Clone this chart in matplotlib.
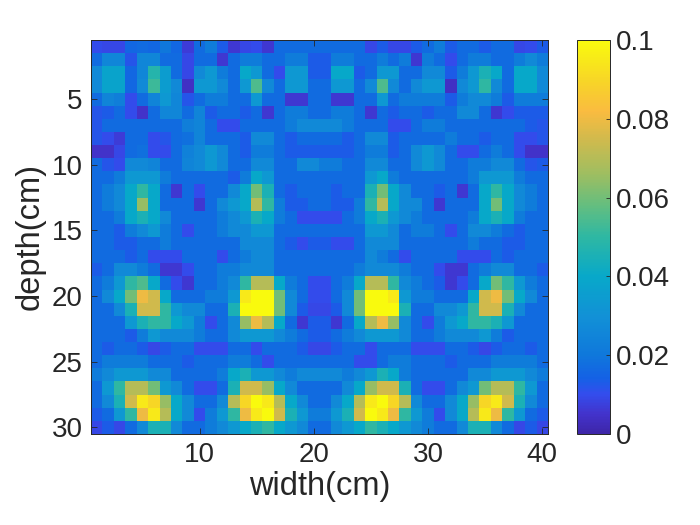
import numpy as np
import matplotlib
matplotlib.use("Agg")
import matplotlib.pyplot as plt
from matplotlib.colors import LinearSegmentedColormap

# values in units of 0.01 (rows = depth 1..30, columns = width 1..40)
values_centi = [
 [1.0,0.9,0.9,1.6,1.7,1.6,2.0,1.6,0.7,1.7, 2.2,1.3,0.6,0.9,1.0,0.6,1.7,1.7,1.7,1.7, 1.7,1.7,1.7,1.7,0.9,1.3,0.9,0.9,1.3,1.7, 2.2,1.3,1.7,1.7,1.3,1.7,1.7,0.9,1.0,1.3],
 [1.7,2.6,2.6,1.2,2.6,2.6,1.7,1.7,0.9,1.7, 1.7,0.6,1.7,2.2,2.2,1.7,1.7,2.2,2.2,1.3, 1.3,2.2,2.2,1.7,1.7,2.2,1.7,2.2,0.6,2.2, 1.7,1.0,1.7,2.2,2.2,1.7,1.7,2.2,2.7,2.2],
 [2.7,3.8,3.8,1.6,2.6,4.8,3.5,1.7,0.9,2.7, 3.3,2.2,1.7,4.0,3.3,1.7,1.0,3.3,3.3,1.3, 1.3,4.0,4.0,1.3,1.7,3.3,3.3,1.7,1.7,2.7, 2.7,1.3,2.2,3.3,4.5,4.0,1.7,4.0,4.0,2.7],
 [2.7,3.8,3.8,1.6,2.7,5.2,3.5,2.7,0.4,3.3, 3.3,2.7,1.7,3.3,5.5,2.7,1.7,3.3,3.3,1.7, 1.7,3.3,3.3,1.7,2.7,5.5,2.7,1.7,2.7,3.3, 3.3,0.4,2.7,3.3,5.0,2.7,1.7,4.0,4.0,2.7],
 [1.7,2.5,2.3,1.0,1.7,2.5,3.3,2.6,1.2,1.7, 2.2,2.2,1.7,1.7,3.3,1.7,1.7,0.6,0.6,1.7, 1.7,0.6,0.6,1.7,1.7,3.3,1.7,2.2,2.2,2.2, 2.2,1.3,2.2,2.7,2.7,2.2,1.3,2.2,2.2,2.2],
 [1.2,1.3,1.7,1.0,0.5,1.7,2.6,2.6,1.7,2.5, 1.3,1.7,1.7,1.3,1.7,0.6,1.7,2.2,2.2,1.7, 1.7,2.2,2.2,1.7,0.6,1.7,1.3,1.7,1.7,1.3, 1.7,1.7,2.7,2.7,1.7,0.6,1.0,1.3,1.3,1.3],
 [1.2,1.7,1.7,1.7,1.7,1.7,1.7,1.7,2.3,2.5, 1.7,1.0,1.0,1.7,1.7,1.7,1.7,2.2,2.7,2.7, 2.7,2.7,2.2,1.7,1.7,1.7,1.0,1.0,1.7,2.2, 2.2,1.7,1.7,1.7,1.7,1.7,1.7,1.7,1.3,1.2],
 [1.2,1.0,0.7,1.7,1.7,1.0,1.2,1.7,1.8,2.5, 1.7,1.7,1.7,1.3,2.7,2.7,1.7,1.3,1.7,1.7, 1.7,1.7,1.3,1.7,2.7,2.7,1.3,1.7,1.7,1.7, 1.7,2.2,1.7,1.7,1.3,1.7,1.7,1.0,1.0,1.2],
 [0.5,0.5,0.9,1.7,1.8,1.0,1.0,1.7,2.4,2.7, 3.3,2.7,1.7,1.3,2.2,2.2,1.7,1.3,1.3,1.3, 1.3,1.3,1.3,1.7,2.2,2.2,1.3,1.7,2.7,3.3, 2.7,1.7,1.0,1.0,1.7,2.2,1.7,1.0,0.5,0.5],
 [1.7,1.2,1.0,2.7,2.7,2.5,1.7,1.7,2.5,2.7, 3.3,2.7,1.7,1.7,2.7,2.7,1.7,1.7,2.7,2.7, 2.2,2.2,1.7,1.7,2.7,2.7,1.7,1.7,2.7,3.3, 2.7,1.7,1.7,2.2,2.2,2.7,2.7,1.7,1.2,1.3],
 [1.7,1.7,2.2,3.3,3.3,3.3,2.2,1.7,1.7,1.7, 1.7,1.7,1.3,2.2,4.0,3.3,1.7,1.7,1.7,1.7, 1.7,1.7,1.7,1.7,3.3,4.0,2.2,1.7,1.7,1.7, 1.7,1.7,1.7,2.2,3.3,3.3,3.3,2.2,1.7,1.7],
 [1.7,2.2,2.7,4.0,5.0,4.0,1.7,0.6,1.7,1.0, 1.7,1.7,2.7,4.0,6.0,4.5,1.7,1.3,1.7,1.7, 1.7,1.3,1.7,1.7,4.5,6.0,4.0,2.7,1.7,1.7, 1.3,1.7,0.6,1.7,4.0,5.0,4.0,2.7,2.2,1.7],
 [1.7,2.2,2.7,4.0,6.5,4.0,1.7,1.7,1.7,0.6, 1.7,2.7,3.3,4.0,7.0,5.0,2.2,1.3,1.3,1.7, 1.7,1.3,1.3,2.2,5.0,7.0,4.0,2.7,2.7,1.7, 0.6,1.7,1.7,1.7,4.0,6.0,4.0,2.7,2.2,1.7],
 [1.7,1.7,2.2,4.0,4.5,4.0,2.7,1.7,1.7,1.7, 1.7,2.2,2.7,3.3,4.5,4.0,2.2,1.7,1.0,1.0, 1.0,1.0,1.7,2.2,4.0,4.5,3.3,2.7,2.2,1.7, 1.7,1.7,1.7,2.2,4.0,4.5,4.0,2.2,1.7,1.7],
 [1.7,1.7,1.3,2.2,2.7,3.3,2.2,1.7,1.0,1.7, 1.7,2.2,2.7,2.7,3.3,3.3,1.7,1.7,1.7,1.7, 1.7,1.7,1.7,1.7,3.3,3.3,2.7,1.7,2.2,2.2, 1.7,1.0,1.7,2.7,2.7,2.2,1.7,1.3,1.7,1.7],
 [1.7,1.7,1.3,1.3,1.7,1.7,2.2,1.7,1.7,1.7, 1.7,1.7,1.7,2.7,2.7,2.7,1.7,1.3,1.0,1.3, 1.3,1.0,1.0,1.7,2.7,2.7,2.7,1.7,1.7,1.7, 1.7,1.7,1.7,2.2,1.7,1.7,1.3,1.3,1.7,1.7],
 [1.7,1.7,1.7,1.3,1.7,1.0,1.0,1.0,1.7,1.7, 1.7,1.0,1.7,2.2,2.7,2.7,1.7,1.7,1.7,1.7, 1.7,1.7,1.7,1.7,2.7,2.2,1.7,1.0,1.7,1.7, 1.7,1.7,1.0,1.0,1.0,1.7,1.3,1.7,1.7,1.7],
 [1.3,1.7,2.7,2.7,2.2,1.7,0.6,0.6,1.0,1.7, 1.7,2.2,2.2,2.7,2.7,2.7,1.7,1.7,1.7,1.7, 1.7,1.7,1.7,2.2,2.7,2.7,2.7,2.2,1.7,1.7, 1.0,0.6,0.6,1.7,2.2,2.7,2.7,1.7,1.7,1.3],
 [1.7,2.2,3.3,5.0,5.5,4.0,1.7,1.0,0.6,1.7, 1.7,2.2,2.7,5.0,7.0,7.0,4.0,2.2,1.7,1.0, 1.0,1.7,2.2,4.0,7.0,7.0,5.0,2.7,2.2,1.7, 1.3,0.6,1.0,1.7,4.0,6.0,5.0,3.3,2.2,1.7],
 [1.7,2.7,4.0,6.0,8.0,7.5,4.0,1.7,1.7,1.7, 2.2,2.2,3.3,9.5,10,10,6.0,2.7,1.7,1.0, 1.0,1.7,2.7,6.0,10,10,9.5,3.3,2.2,2.2, 1.7,1.7,1.7,4.0,7.5,8.0,6.0,4.0,2.7,1.7],
 [1.7,1.7,2.7,4.5,7.5,7.5,5.0,3.3,2.7,2.7, 1.7,1.7,4.5,10,10,10,6.0,2.7,1.3,0.9, 0.9,1.3,2.7,6.0,10,10,10,4.5,1.7,1.7, 2.7,2.7,3.3,5.0,7.5,7.5,4.5,2.7,1.7,1.7],
 [1.7,1.7,1.7,3.3,4.5,5.0,5.0,4.0,3.3,2.2, 1.0,1.7,2.7,6.5,8.0,7.0,4.0,1.7,0.6,1.3, 1.3,0.6,1.7,4.0,7.0,8.0,6.5,2.7,1.7,1.0, 2.2,3.3,4.0,5.0,5.0,4.5,3.3,1.7,1.7,1.7],
 [1.7,1.7,1.7,1.3,2.2,3.3,2.7,2.7,2.7,2.2, 1.7,1.7,2.7,3.3,3.3,3.3,2.7,2.2,1.7,1.3, 1.3,1.7,2.2,2.7,3.3,3.3,3.3,2.7,1.7,1.7, 2.2,2.7,2.7,2.7,3.3,2.2,1.3,1.7,1.7,1.7],
 [1.7,1.3,1.7,1.7,1.3,0.9,1.3,1.7,1.7,1.0, 1.0,1.0,1.7,1.7,1.0,1.7,1.7,1.7,1.3,0.9, 0.9,1.3,1.7,1.7,1.0,1.7,1.7,1.7,1.0,1.0, 1.0,1.7,1.7,1.3,0.9,1.3,1.7,1.7,1.3,1.7],
 [1.7,2.2,2.2,2.2,2.2,1.7,1.7,1.7,1.3,1.7, 1.7,1.7,2.2,2.2,1.7,1.0,1.7,1.7,1.7,1.7, 1.7,1.7,1.7,1.0,1.0,1.7,2.2,2.2,1.7,1.7, 1.7,1.3,1.7,1.7,1.7,2.2,2.2,2.2,2.2,1.7],
 [2.2,2.7,3.3,3.3,3.3,2.7,2.7,1.7,1.7,1.7, 1.7,2.2,4.0,4.5,3.3,3.3,2.7,2.2,2.7,2.7, 2.7,2.7,2.2,2.7,3.3,4.5,4.0,2.2,1.7,1.7, 1.7,1.7,1.7,2.7,2.7,3.3,3.3,3.3,2.7,2.2],
 [1.7,3.3,5.0,7.0,7.0,6.0,3.3,2.7,1.7,1.0, 1.0,1.7,4.5,7.5,7.5,6.5,4.0,2.7,1.7,1.7, 1.7,1.7,2.7,4.0,6.5,7.5,7.5,4.5,1.7,1.0, 1.0,1.7,2.7,3.3,6.0,7.0,7.0,5.0,3.3,1.7],
 [1.7,2.7,4.5,7.5,9.5,9.0,6.5,4.0,2.7,1.7, 1.7,2.7,7.0,9.0,10,9.5,7.0,4.0,2.7,1.7, 1.7,2.7,4.0,7.0,9.5,10,9.0,7.0,2.7,1.7, 1.7,2.7,4.0,6.5,9.0,9.5,7.5,4.5,2.7,1.7],
 [1.3,1.7,3.3,5.0,8.0,9.5,7.0,4.0,2.7,1.0, 2.2,3.3,5.0,8.0,9.5,10,7.5,4.5,3.3,2.2, 2.2,3.3,4.5,7.5,10,9.5,8.0,5.0,3.3,2.2, 1.0,2.7,4.0,7.0,9.5,8.0,5.0,3.3,1.7,1.3],
 [0.9,1.3,0.9,1.7,2.7,4.5,4.5,2.7,1.7,1.7, 2.2,2.7,3.3,4.0,4.5,5.0,4.0,3.3,2.7,1.7, 1.7,2.7,3.3,4.0,5.0,4.5,4.0,3.3,2.7,2.2, 1.7,1.7,2.7,4.5,4.5,2.7,1.7,0.9,1.3,0.9],
]
x_ticks = [10, 20, 30, 40]
y_ticks = [5, 10, 15, 20, 25, 30]
cbar_ticks = [0, 0.02, 0.04, 0.06, 0.08, 0.1]
cbar_labels = ['0', '0.02', '0.04', '0.06', '0.08', '0.1']
x_label = 'width(cm)'
y_label = 'depth(cm)'

data = np.array(values_centi) * 0.01
nrows, ncols = data.shape

parula = LinearSegmentedColormap.from_list('parula', [
    (0.000, (0.2422, 0.1504, 0.6603)),
    (0.050, (0.2600, 0.2000, 0.8000)),
    (0.100, (0.2000, 0.3000, 0.9300)),
    (0.140, (0.0800, 0.3800, 0.9000)),
    (0.200, (0.0600, 0.4700, 0.8600)),
    (0.300, (0.0700, 0.5700, 0.8400)),
    (0.400, (0.0300, 0.6600, 0.7900)),
    (0.500, (0.1800, 0.7200, 0.6400)),
    (0.580, (0.3900, 0.7450, 0.5000)),
    (0.660, (0.6200, 0.7450, 0.3800)),
    (0.750, (0.8200, 0.7300, 0.3000)),
    (0.820, (0.9800, 0.7350, 0.2500)),
    (0.900, (0.9700, 0.8400, 0.1500)),
    (1.000, (0.9769, 0.9839, 0.0538)),
], N=256)

plt.rcParams['font.family'] = ['Liberation Sans', 'DejaVu Sans']
txt = (0.15, 0.15, 0.15)

fig = plt.figure(figsize=(7, 5.25), dpi=100)
ax = fig.add_axes([91/700, 1-434/525, 457/700, 394/525])
im = ax.imshow(data, cmap=parula, vmin=0, vmax=0.1, aspect='auto',
               extent=[0.5, ncols+0.5, nrows+0.5, 0.5], interpolation='nearest')
ax.set_xticks(x_ticks)
ax.set_yticks(y_ticks)
ax.tick_params(direction='in', top=True, right=True, length=4, width=0.6,
               labelsize=20, colors=txt, pad=6)
for s in ax.spines.values():
    s.set_color(txt)
    s.set_linewidth(0.7)
ax.set_xlabel(x_label, fontsize=23.5, color=txt, labelpad=2)
ax.set_ylabel(y_label, fontsize=23.5, color=txt, labelpad=4)

cax = fig.add_axes([577/700, 1-434/525, 33/700, 394/525])
cb = fig.colorbar(im, cax=cax, ticks=cbar_ticks)
cb.ax.set_yticklabels(cbar_labels)
cb.ax.tick_params(direction='in', length=3, width=0.6, labelsize=20, colors=txt, pad=4)
cb.outline.set_edgecolor(txt)
cb.outline.set_linewidth(0.7)

fig.savefig('out.png', dpi=100)
